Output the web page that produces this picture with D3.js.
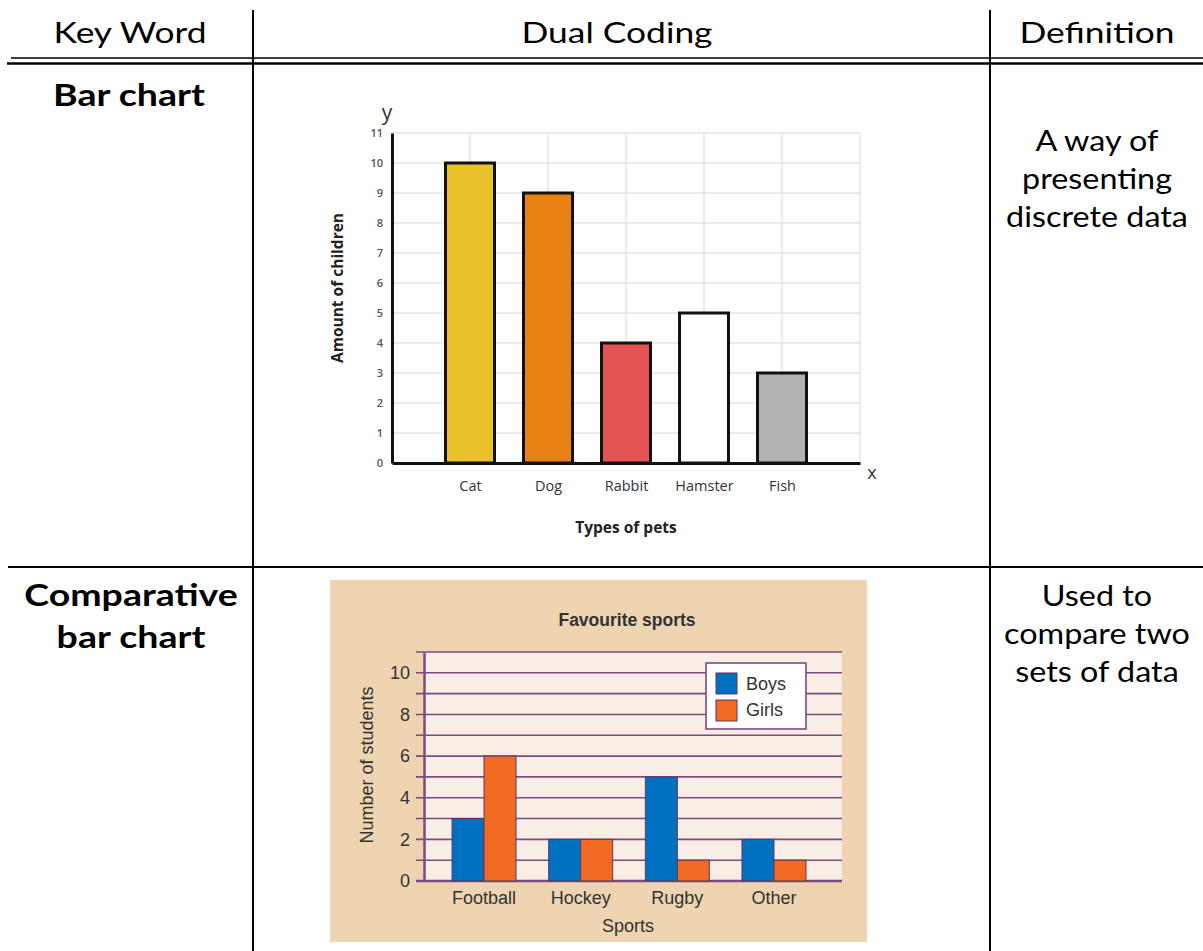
<!DOCTYPE html>
<html><head><meta charset="utf-8">
<script src="https://cdn.jsdelivr.net/npm/d3@7"></script>
<style>body{margin:0;background:#fff}svg{display:block}</style>
</head><body><svg id="c" width="1203" height="951"></svg>
<script>
// ---------- data ----------
const headers = ["Key Word", "Dual Coding", "Definition"];
const keyWords1 = ["Bar chart"];
const keyWords2 = ["Comparative", "bar chart"];
const definition1 = ["A way of", "presenting", "discrete data"];
const definition2 = ["Used to", "compare two", "sets of data"];

const petCategories = ["Cat", "Dog", "Rabbit", "Hamster", "Fish"];
const petCounts = [10, 9, 4, 5, 3];
const petColors = ["#E9C22A", "#E88213", "#E35354", "#FFFFFF", "#B3B3B3"];
const petTicks = [0, 1, 2, 3, 4, 5, 6, 7, 8, 9, 10, 11];

const sports = ["Football", "Hockey", "Rugby", "Other"];
const boys = [3, 2, 5, 2];
const girls = [6, 2, 1, 1];
const seriesNames = ["Boys", "Girls"];
const seriesColors = ["#0070C0", "#F26A22"];
const sportTicks = [0, 2, 4, 6, 8, 10];
const sportGrid = [0, 1, 2, 3, 4, 5, 6, 7, 8, 9, 10, 11];

// ---------- table ----------
const svg = d3.select("#c");
const TF = "Lato, 'Open Sans', sans-serif";
const tbl = svg.append("g");
[253, 990].forEach(x => tbl.append("line").attr("x1", x).attr("x2", x).attr("y1", 10).attr("y2", 951)
  .attr("stroke", "#000").attr("stroke-width", 2));
tbl.append("line").attr("x1", 11).attr("x2", 1203).attr("y1", 58).attr("y2", 58).attr("stroke", "#000").attr("stroke-width", 1.5);
tbl.append("line").attr("x1", 7).attr("x2", 1203).attr("y1", 63.5).attr("y2", 63.5).attr("stroke", "#000").attr("stroke-width", 2.5);
tbl.append("line").attr("x1", 8).attr("x2", 1203).attr("y1", 567).attr("y2", 567).attr("stroke", "#000").attr("stroke-width", 2);

function stext(t, x, y, size, sx, bold) {
  tbl.append("text").attr("transform", `translate(${x},${y}) scale(${sx},1)`)
    .attr("text-anchor", "middle").attr("font-family", TF).attr("font-size", size)
    .attr("font-weight", bold ? "bold" : "normal").attr("fill", "#000").text(t);
}
const colCenters = [130, 617, 1097];
headers.forEach((h, i) => stext(h, colCenters[i], 43, 29, 1.22, false));
keyWords1.forEach((t, i) => stext(t, 129, 106 + i * 42, 31, 1.21, true));
keyWords2.forEach((t, i) => stext(t, 131, 606 + i * 42, 31, 1.21, true));
definition1.forEach((t, i) => stext(t, 1097, 151 + i * 38, 28, 1.155, false));
definition2.forEach((t, i) => stext(t, 1097, 606 + i * 38, 28, 1.155, false));

// ---------- chart 1: pets ----------
const F1 = "'Open Sans', sans-serif";
const g1 = svg.append("g");
const x1 = d3.scalePoint().domain(petCategories).range([392, 860]).padding(1);
const y1 = d3.scaleLinear().domain([0, 11]).range([463, 133]);
const bw1 = 49;

g1.selectAll("line.hg").data(petTicks.slice(1)).join("line").attr("class", "hg")
  .attr("x1", 392).attr("x2", 860).attr("y1", d => y1(d)).attr("y2", d => y1(d))
  .attr("stroke", "#e4e4e4").attr("stroke-width", 1.5);
g1.selectAll("line.vg").data(petCategories.concat(["end"])).join("line").attr("class", "vg")
  .attr("x1", d => d === "end" ? 860 : x1(d)).attr("x2", d => d === "end" ? 860 : x1(d))
  .attr("y1", y1(11)).attr("y2", y1(0)).attr("stroke", "#e4e4e4").attr("stroke-width", 1.5);

g1.selectAll("rect.bar").data(petCategories).join("rect").attr("class", "bar")
  .attr("x", d => x1(d) - bw1 / 2).attr("width", bw1)
  .attr("y", (d, i) => y1(petCounts[i])).attr("height", (d, i) => y1(0) - y1(petCounts[i]))
  .attr("fill", (d, i) => petColors[i]).attr("stroke", "#111").attr("stroke-width", 3);

const ay1 = g1.append("g").attr("transform", "translate(392,0)")
  .call(d3.axisLeft(y1).tickValues(petTicks).tickSize(0).tickSizeOuter(0).tickPadding(9).tickFormat(d3.format("d")));
ay1.select(".domain").attr("stroke", "#111").attr("stroke-width", 3);
ay1.selectAll("text").attr("font-family", F1).attr("font-size", 11).attr("font-weight", 600).attr("fill", "#555");

const ax1 = g1.append("g").attr("transform", "translate(0,463)")
  .call(d3.axisBottom(x1).tickSize(0).tickSizeOuter(0).tickPadding(18));
ax1.select(".domain").attr("stroke", "#111").attr("stroke-width", 3);
ax1.selectAll("text").attr("font-family", F1).attr("font-size", 14.5).attr("fill", "#333");

g1.append("text").attr("x", 387).attr("y", 120).attr("text-anchor", "middle")
  .attr("font-family", F1).attr("font-size", 21).attr("fill", "#333").text("y");
g1.append("text").attr("x", 872).attr("y", 479).attr("text-anchor", "middle")
  .attr("font-family", F1).attr("font-size", 18).attr("fill", "#333").text("x");
g1.append("text").attr("x", 626).attr("y", 533).attr("text-anchor", "middle")
  .attr("font-family", F1).attr("font-size", 15.5).attr("font-weight", "bold").attr("fill", "#222").text("Types of pets");
g1.append("text").attr("transform", "translate(343,288) rotate(-90)").attr("text-anchor", "middle")
  .attr("font-family", F1).attr("font-size", 15.5).attr("font-weight", "bold").attr("fill", "#222").text("Amount of children");

// ---------- chart 2: sports ----------
const F2 = "'Liberation Sans', Arial, sans-serif";
const g2 = svg.append("g");
const purple = "#7B4A80";
g2.append("rect").attr("x", 330).attr("y", 580).attr("width", 537).attr("height", 362).attr("fill", "#EED4B1");
const y2 = d3.scaleLinear().domain([0, 11]).range([881, 652]);
const x2 = d3.scaleBand().domain(sports).range([424, 834]).paddingInner(0.338).paddingOuter(0.29);
const xs = d3.scaleBand().domain(seriesNames).range([0, x2.bandwidth()]);
g2.append("rect").attr("x", 424).attr("y", y2(11)).attr("width", 842 - 424).attr("height", y2(0) - y2(11)).attr("fill", "#F9EEE5");

g2.selectAll("line.g").data(sportGrid).join("line").attr("class", "g")
  .attr("x1", 416).attr("x2", 842).attr("y1", d => y2(d)).attr("y2", d => y2(d))
  .attr("stroke", purple).attr("stroke-width", d => d === 0 ? 2.5 : 1.6);

const series = [boys, girls];
sports.forEach((s, i) => {
  seriesNames.forEach((n, j) => {
    g2.append("rect").attr("x", x2(s) + xs(n)).attr("width", xs.bandwidth())
      .attr("y", y2(series[j][i])).attr("height", y2(0) - y2(series[j][i]))
      .attr("fill", seriesColors[j]).attr("stroke", "#5E3563").attr("stroke-width", 1);
  });
});

const ay2 = g2.append("g").attr("transform", "translate(424,0)")
  .call(d3.axisLeft(y2).tickValues(sportTicks).tickSize(0).tickSizeOuter(0).tickPadding(14));
ay2.select(".domain").attr("stroke", purple).attr("stroke-width", 2.5);
ay2.selectAll("text").attr("font-family", F2).attr("font-size", 18).attr("fill", "#333");

const ax2 = g2.append("g").attr("transform", "translate(0,881)")
  .call(d3.axisBottom(x2).tickSize(0).tickSizeOuter(0).tickPadding(10));
ax2.select(".domain").remove();
ax2.selectAll("text").attr("font-family", F2).attr("font-size", 18).attr("fill", "#333");

g2.append("text").attr("x", 627).attr("y", 626).attr("text-anchor", "middle")
  .attr("font-family", F2).attr("font-size", 17.5).attr("font-weight", "bold").attr("fill", "#333").text("Favourite sports");
g2.append("text").attr("x", 628).attr("y", 932).attr("text-anchor", "middle")
  .attr("font-family", F2).attr("font-size", 18).attr("fill", "#333").text("Sports");
g2.append("text").attr("transform", "translate(373,765) rotate(-90)").attr("text-anchor", "middle")
  .attr("font-family", F2).attr("font-size", 18).attr("fill", "#333").text("Number of students");

const lg = g2.append("g");
lg.append("rect").attr("x", 706).attr("y", 663).attr("width", 100).attr("height", 66)
  .attr("fill", "#fff").attr("stroke", purple).attr("stroke-width", 1.6);
seriesNames.forEach((n, j) => {
  lg.append("rect").attr("x", 716).attr("y", 673 + j * 27).attr("width", 21).attr("height", 21)
    .attr("fill", seriesColors[j]).attr("stroke", "#5E3563").attr("stroke-width", 1);
  lg.append("text").attr("x", 746).attr("y", 690 + j * 26).attr("font-family", F2).attr("font-size", 18)
    .attr("fill", "#333").text(n);
});
</script></body></html>
